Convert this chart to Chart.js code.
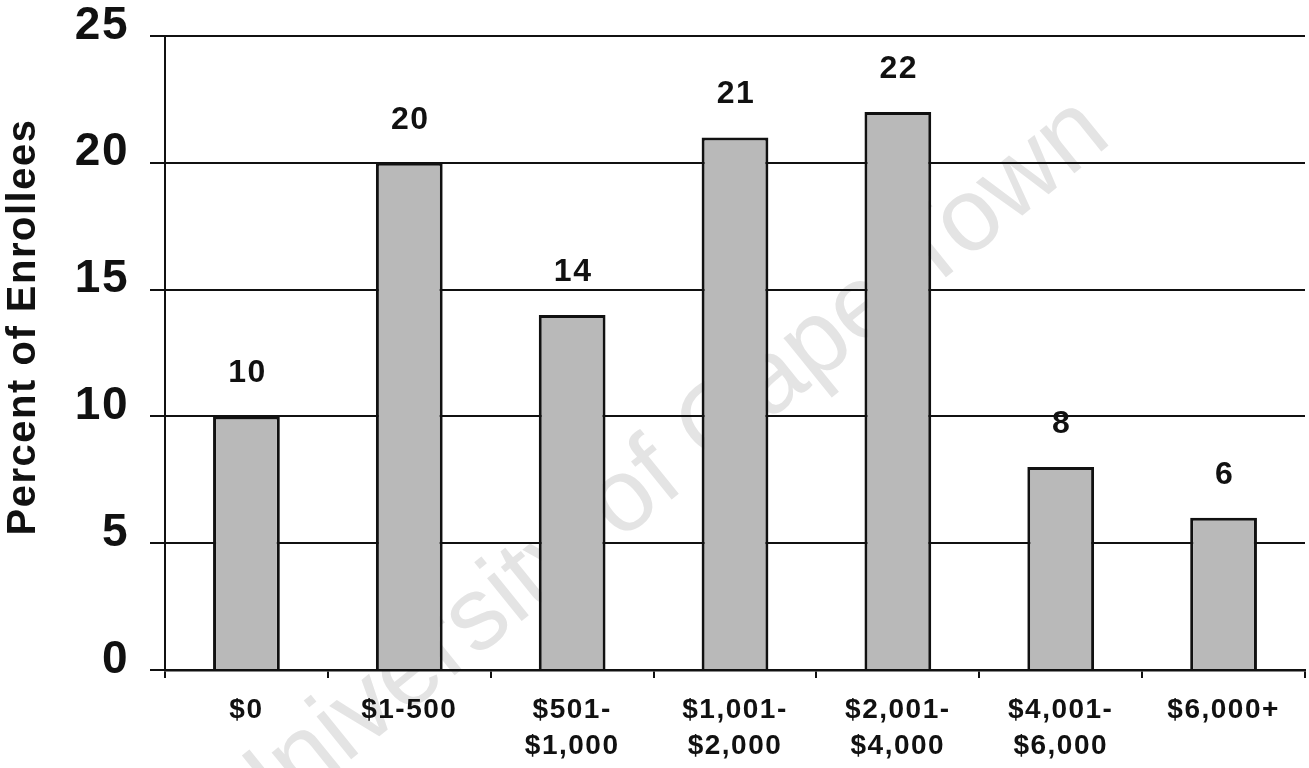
<!DOCTYPE html>
<html>
<head>
<meta charset="utf-8">
<title>Percent of Enrollees by Spending</title>
<script src="https://cdn.jsdelivr.net/npm/chart.js@4/dist/chart.umd.min.js"></script>
<style>
  html, body { margin: 0; padding: 0; background: #fff; }
  #wrap { width: 1309px; height: 768px; }
</style>
</head>
<body>
<div id="wrap"><canvas id="enrollees"></canvas></div>
<script>
// spending bands and share of enrollees (%)
const categories = [
    '$0',
    '$1-500',
    ['$501-', '$1,000'],
    ['$1,001-', '$2,000'],
    ['$2,001-', '$4,000'],
    ['$4,001-', '$6,000'],
    '$6,000+'
];
const percentEnrollees = [10, 20, 14, 21, 22, 8, 6];
const yTicks = [0, 5, 10, 15, 20, 25];
const yTitle = 'Percent of Enrollees';
const watermarkText = 'University of Cape Town';

const FONT = '"Liberation Sans", Arial, Helvetica, sans-serif';
const SPACING = '1.5px';

// wide tracking on every label, set again whenever the canvas is reset
const spacingPlugin = {
    id: 'spacing',
    beforeLayout(chart) { chart.ctx.letterSpacing = SPACING; },
    beforeDraw(chart) { chart.ctx.letterSpacing = SPACING; }
};

// faint diagonal stamp behind the grid
const watermarkPlugin = {
    id: 'watermark',
    beforeDraw(chart) {
        const ctx = chart.ctx;
        ctx.save();
        ctx.letterSpacing = '0px';
        ctx.translate(660, 472);
        ctx.rotate(-39 * Math.PI / 180);
        ctx.font = '104px ' + FONT;
        ctx.fillStyle = '#e4e4e4';
        ctx.textAlign = 'center';
        ctx.textBaseline = 'middle';
        ctx.fillText(watermarkText, 0, 0);
        ctx.restore();
    }
};

// rotated y title, sitting a little above the middle of the plot
const yTitlePlugin = {
    id: 'yTitle',
    afterDraw(chart) {
        const { ctx, chartArea } = chart;
        ctx.save();
        ctx.translate(24, (chartArea.top + chartArea.bottom) / 2 - 26);
        ctx.rotate(-Math.PI / 2);
        ctx.font = 'bold 40px ' + FONT;
        ctx.fillStyle = '#111';
        ctx.textAlign = 'center';
        ctx.textBaseline = 'middle';
        ctx.fillText(yTitle, 0, 0);
        ctx.restore();
    }
};

// value printed above each bar
const valueLabels = {
    id: 'valueLabels',
    afterDatasetsDraw(chart) {
        const ctx = chart.ctx;
        const meta = chart.getDatasetMeta(0);
        ctx.save();
        ctx.font = 'bold 32px ' + FONT;
        ctx.fillStyle = '#111';
        ctx.textAlign = 'center';
        ctx.textBaseline = 'middle';
        meta.data.forEach((bar, i) => {
            ctx.fillText(String(percentEnrollees[i]), bar.x + 1, bar.y - 43);
        });
        ctx.restore();
    }
};

new Chart(document.getElementById('enrollees'), {
    type: 'bar',
    data: {
        labels: categories,
        datasets: [{
            data: percentEnrollees,
            backgroundColor: '#b9b9b9',
            borderColor: '#111',
            borderWidth: 3,
            borderSkipped: 'start',
            barPercentage: 0.41,
            categoryPercentage: 1
        }]
    },
    options: {
        responsive: true,
        maintainAspectRatio: false,
        animation: false,
        layout: { padding: { top: 36, right: 4, left: 0, bottom: 0 } },
        plugins: {
            legend: { display: false },
            tooltip: { enabled: false }
        },
        scales: {
            x: {
                afterFit: s => { s.height = 98; },
                grid: {
                    offset: true,
                    drawOnChartArea: false,
                    drawTicks: true,
                    tickLength: 8,
                    color: '#111',
                    lineWidth: 2
                },
                border: { display: true, color: '#111', width: 2.5 },
                ticks: {
                    color: '#111',
                    padding: 14,
                    maxRotation: 0,
                    autoSkip: false,
                    font: { family: FONT, size: 28, weight: 'bold', lineHeight: 1.3 }
                }
            },
            y: {
                min: 0,
                max: 25,
                afterFit: s => {
                    s.width = 165;
                    // the big tick labels may hang past the plot edges
                    s.paddingTop = 0;
                    s.paddingBottom = 0;
                },
                afterBuildTicks: s => { s.ticks = yTicks.map(v => ({ value: v })); },
                grid: {
                    color: '#111',
                    lineWidth: 2,
                    tickLength: 15
                },
                border: { display: true, color: '#111', width: 2 },
                ticks: {
                    color: '#111',
                    padding: 21,
                    labelOffset: -10,
                    font: { family: FONT, size: 46, weight: 'bold' }
                }
            }
        }
    },
    plugins: [spacingPlugin, watermarkPlugin, valueLabels, yTitlePlugin]
});
</script>
</body>
</html>
